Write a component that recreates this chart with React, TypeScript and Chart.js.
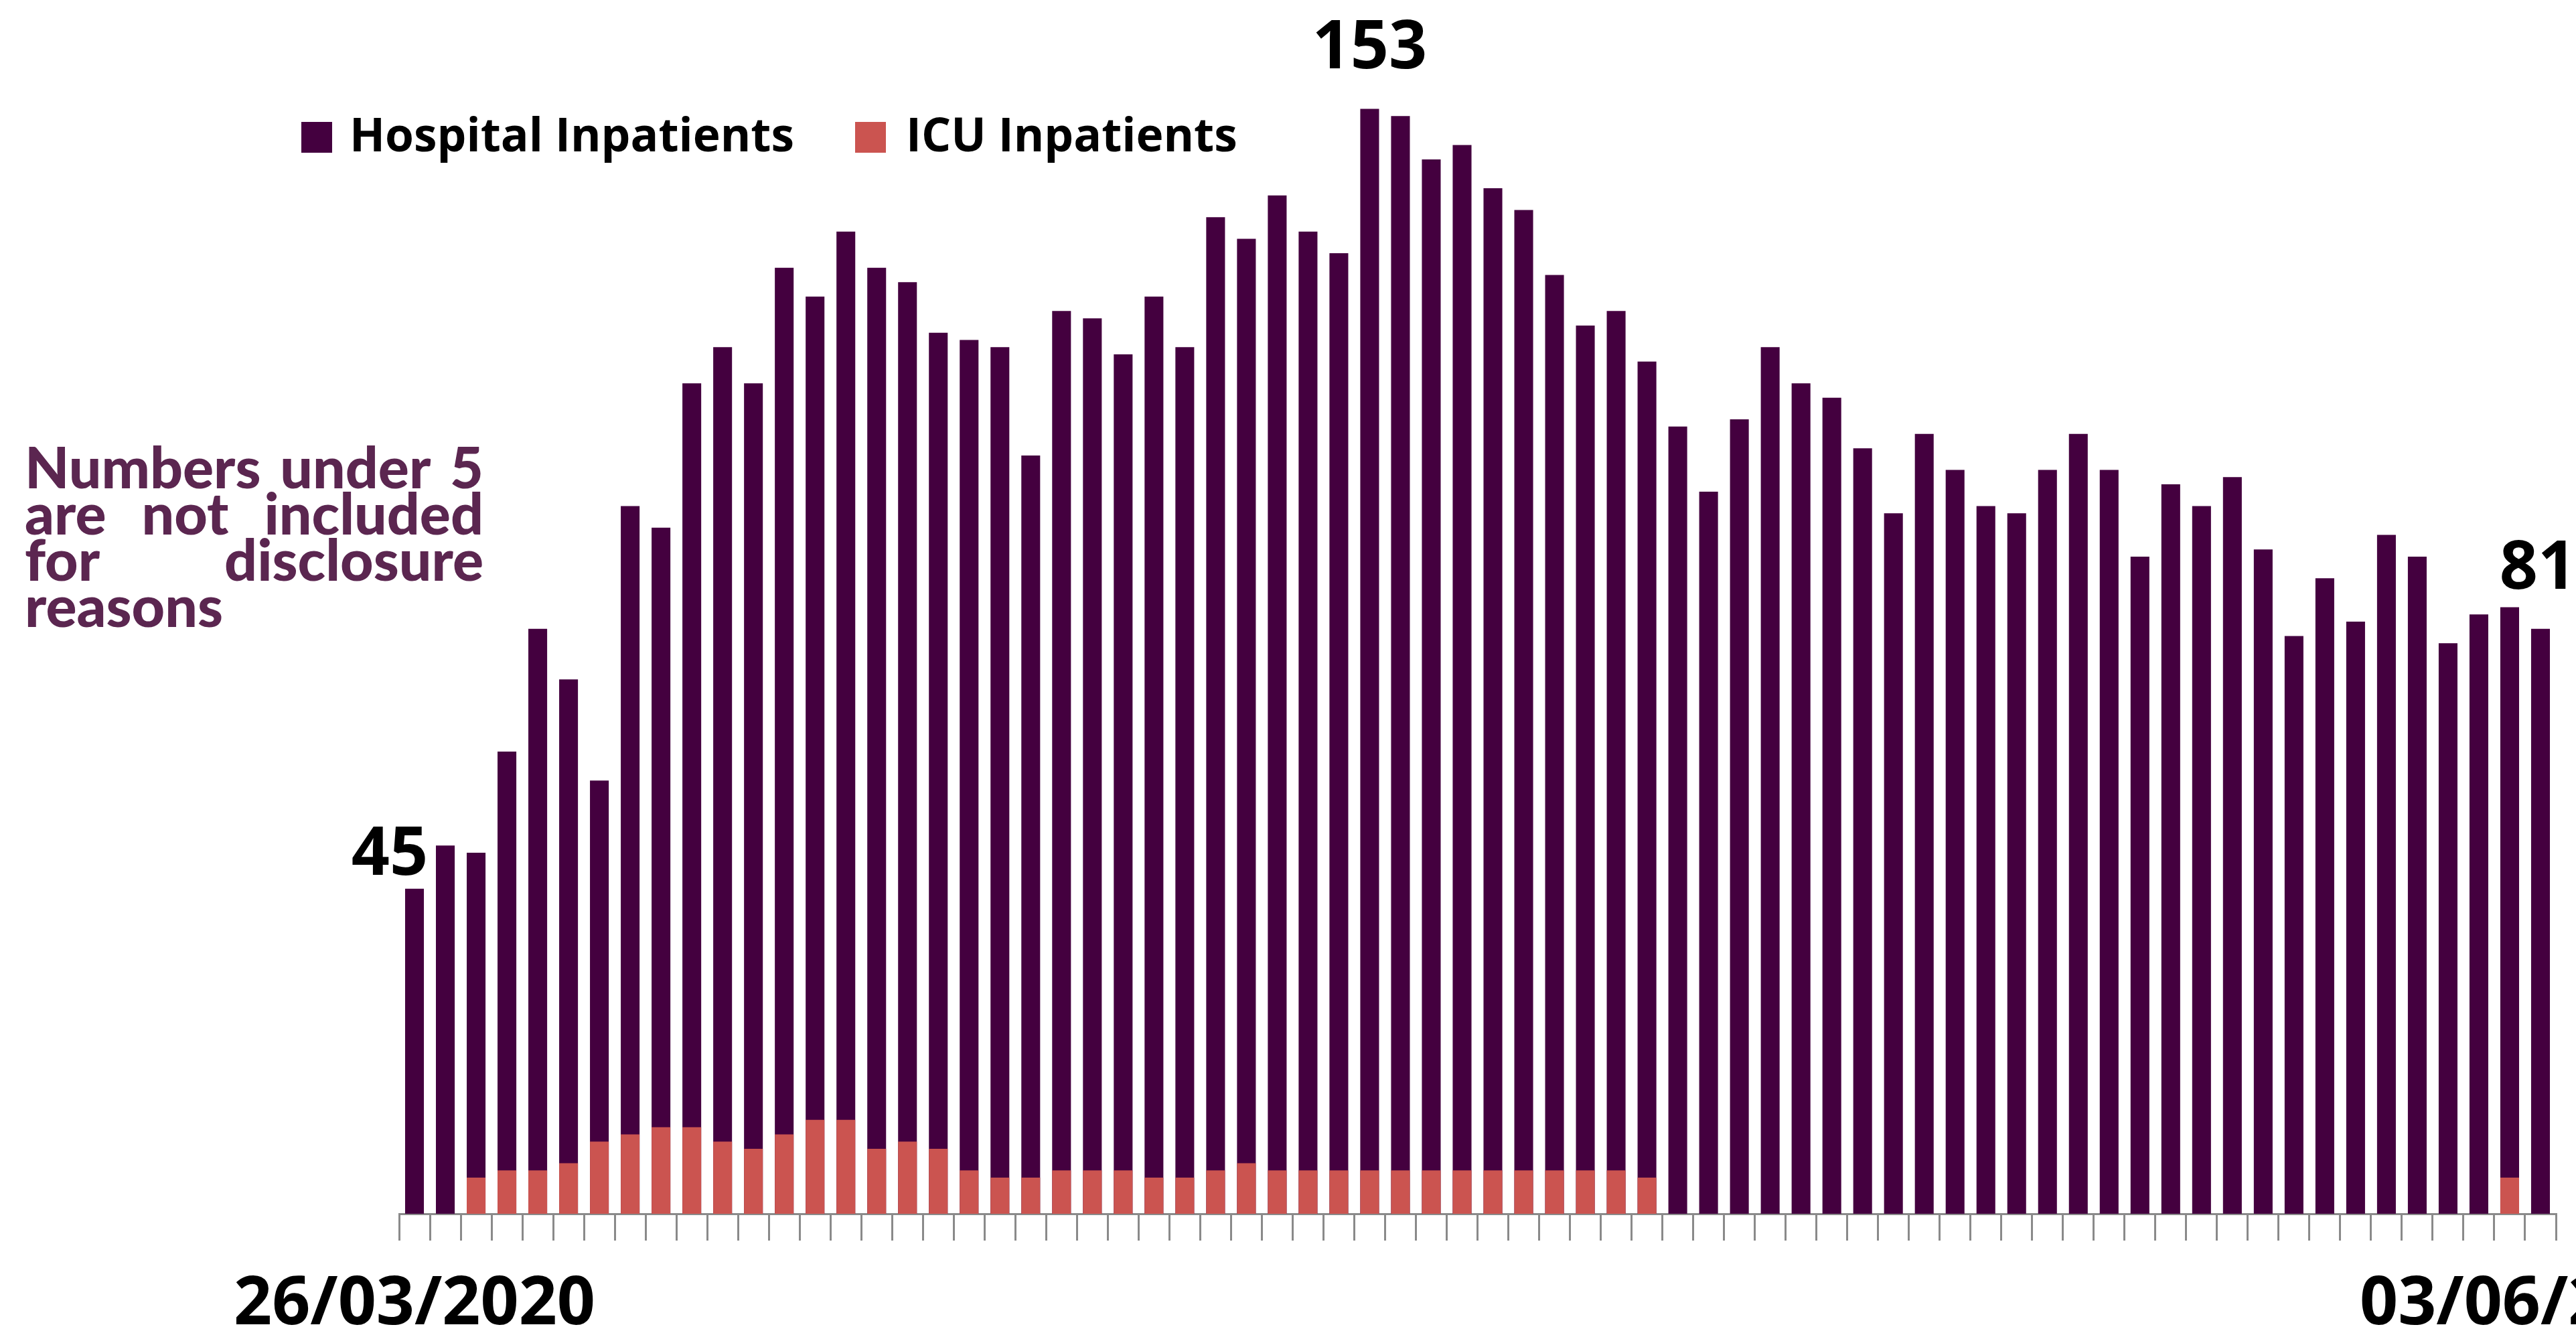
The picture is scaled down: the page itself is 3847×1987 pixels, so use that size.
import React, { useEffect, useRef } from 'react';
import { Chart, registerables } from 'chart.js';

Chart.register(...registerables);

// ---------- data ----------
const dates = [
  '26/03/2020', '27/03/2020', '28/03/2020', '29/03/2020', '30/03/2020', '31/03/2020',
  '01/04/2020', '02/04/2020', '03/04/2020', '04/04/2020', '05/04/2020', '06/04/2020', '07/04/2020',
  '08/04/2020', '09/04/2020', '10/04/2020', '11/04/2020', '12/04/2020', '13/04/2020', '14/04/2020',
  '15/04/2020', '16/04/2020', '17/04/2020', '18/04/2020', '19/04/2020', '20/04/2020', '21/04/2020',
  '22/04/2020', '23/04/2020', '24/04/2020', '25/04/2020', '26/04/2020', '27/04/2020', '28/04/2020',
  '29/04/2020', '30/04/2020',
  '01/05/2020', '02/05/2020', '03/05/2020', '04/05/2020', '05/05/2020', '06/05/2020', '07/05/2020',
  '08/05/2020', '09/05/2020', '10/05/2020', '11/05/2020', '12/05/2020', '13/05/2020', '14/05/2020',
  '15/05/2020', '16/05/2020', '17/05/2020', '18/05/2020', '19/05/2020', '20/05/2020', '21/05/2020',
  '22/05/2020', '23/05/2020', '24/05/2020', '25/05/2020', '26/05/2020', '27/05/2020', '28/05/2020',
  '29/05/2020', '30/05/2020', '31/05/2020',
  '01/06/2020', '02/06/2020', '03/06/2020',
];

const hospitalInpatients = [
  45, 51, 50, 64, 81, 74, 60, 98, 95, 115,
  120, 115, 131, 127, 136, 131, 129, 122, 121, 120,
  105, 125, 124, 119, 127, 120, 138, 135, 141, 136,
  133, 153, 152, 146, 148, 142, 139, 130, 123, 125,
  118, 109, 100, 110, 120, 115, 113, 106, 97, 108,
  103, 98, 97, 103, 108, 103, 91, 101, 98, 102,
  92, 80, 88, 82, 94, 91, 79, 83, 84, 81,
];

const icuInpatients = [
  null, null, 5, 6, 6, 7, 10, 11, 12, 12,
  10, 9, 11, 13, 13, 9, 10, 9, 6, 5,
  5, 6, 6, 6, 5, 5, 6, 7, 6, 6,
  6, 6, 6, 6, 6, 6, 6, 6, 6, 6,
  5, null, null, null, null, null, null, null, null, null,
  null, null, null, null, null, null, null, null, null, null,
  null, null, null, null, null, null, null, null, 5, null,
];

const seriesLabels = ['Hospital Inpatients', 'ICU Inpatients'];
const tickLabels = ['26/03/2020', '03/06/2020'];
const valueLabelDates = ['26/03/2020', '26/04/2020', '03/06/2020'];
const noteLines = ['Numbers under 5', 'are not included', 'for disclosure', 'reasons'];

// ---------- styles ----------
const HOSPITAL_COLOR = '#44003f';
const ICU_COLOR = '#cb5450';
const NOTE_COLOR = '#5b2650';
const AXIS_COLOR = '#8a8a8a';
const valueLabelOffsets = [
  { dx: -37, dy: 21 },
  { dx: 0, dy: 60 },
  { dx: -4, dy: 60 },
];

const overlayPlugin = {
  id: 'overlay',
  afterDraw(chart: any) {
    const ctx = chart.ctx as CanvasRenderingContext2D;
    ctx.save();

    // ---- side note (justified) ----
    const noteLeft = 37;
    const noteWidth = 685;
    const noteBaselines = [729, 798, 867, 936];
    ctx.fillStyle = NOTE_COLOR;
    ctx.textBaseline = 'alphabetic';
    ctx.textAlign = 'left';
    ctx.font = '900 100px Lato';
    const natural = ctx.measureText(noteLines[0]).width;
    const noteSize = Math.min(86, (100 * (noteWidth - 4)) / natural);
    ctx.font = `900 ${noteSize}px Lato`;
    noteLines.forEach((line, li) => {
      const y = noteBaselines[li];
      const words = line.split(' ');
      if (li === noteLines.length - 1 || words.length < 2) {
        ctx.fillText(line, noteLeft, y);
        return;
      }
      const wordsW = words.reduce((s, w) => s + ctx.measureText(w).width, 0);
      const gap = (noteWidth - wordsW) / (words.length - 1);
      let x = noteLeft;
      words.forEach((w) => {
        ctx.fillText(w, x, y);
        x += ctx.measureText(w).width + gap;
      });
    });

    // ---- legend ----
    const legendSquares = [450, 1277];
    const legendTexts = [522, 1353];
    ctx.font = 'bold 70px "Open Sans"';
    const hw = ctx.measureText(seriesLabels[0]).width;
    const legendSize = (70 * 664) / hw;
    ctx.font = `bold ${legendSize}px "Open Sans"`;
    chart.data.datasets.forEach((ds: any, i: number) => {
      ctx.fillStyle = ds.backgroundColor;
      ctx.fillRect(legendSquares[i], 182, 46, 46);
      ctx.fillStyle = '#000';
      ctx.fillText(ds.label, legendTexts[i], 226);
    });

    // ---- value labels ----
    const meta = chart.getDatasetMeta(0);
    ctx.font = 'bold 100px "Open Sans"';
    ctx.textAlign = 'center';
    ctx.fillStyle = '#000';
    valueLabelDates.forEach((d, k) => {
      const idx = dates.indexOf(d);
      const el = meta.data[idx];
      if (!el) return;
      const off = valueLabelOffsets[k];
      ctx.fillText(String(hospitalInpatients[idx]), el.x + off.dx, el.y - off.dy);
    });

    // ---- x tick labels (first and last only) ----
    const xScale = chart.scales.x;
    ctx.font = 'bold 100px "Open Sans"';
    tickLabels.forEach((t) => {
      const idx = dates.indexOf(t);
      const x = xScale.getPixelForValue(idx);
      ctx.fillText(t, x, 1977);
    });

    ctx.restore();
  },
};

export default function App() {
  const canvasRef = useRef<HTMLCanvasElement | null>(null);

  useEffect(() => {
    const canvas = canvasRef.current;
    if (!canvas) return;
    const chart = new Chart(canvas, {
      type: 'bar',
      data: {
        labels: dates,
        datasets: [
          {
            label: seriesLabels[0],
            data: hospitalInpatients,
            backgroundColor: HOSPITAL_COLOR,
            borderWidth: 0,
            order: 1,
          },
          {
            label: seriesLabels[1],
            data: icuInpatients as any,
            backgroundColor: ICU_COLOR,
            borderWidth: 0,
            order: 0,
          },
        ],
      },
      options: {
        responsive: true,
        maintainAspectRatio: false,
        animation: false,
        layout: { padding: { left: 596, right: 30, top: 87, bottom: 135 } },
        datasets: {
          bar: { grouped: false, barPercentage: 0.61, categoryPercentage: 1.0 },
        },
        plugins: {
          legend: { display: false },
          title: { display: false },
          tooltip: { enabled: false },
        },
        scales: {
          x: {
            type: 'category',
            offset: true,
            grid: {
              display: true,
              drawOnChartArea: false,
              drawTicks: true,
              tickLength: 40,
              color: AXIS_COLOR,
              lineWidth: 3,
              offset: true,
            },
            border: { display: true, color: AXIS_COLOR, width: 3 },
            ticks: { display: false, autoSkip: false },
          },
          y: {
            display: false,
            min: 0,
            max: 160,
          },
        },
      },
      plugins: [overlayPlugin],
    } as any);
    return () => chart.destroy();
  }, []);

  return (
    <div
      style={{
        position: 'fixed',
        left: 0,
        top: 0,
        width: '100vw',
        height: '100vh',
        background: '#ffffff',
      }}
    >
      <canvas ref={canvasRef} />
    </div>
  );
}
